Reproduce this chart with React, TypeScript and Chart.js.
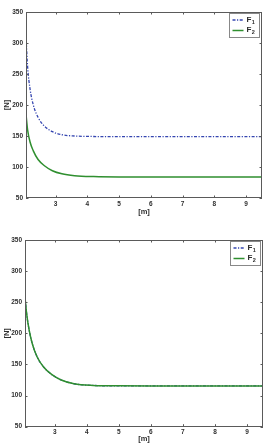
import React, { useEffect, useRef } from 'react';
import { Chart, registerables } from 'chart.js';

Chart.register(...registerables);

const xValues = [2.07, 2.12, 2.2, 2.3, 2.45, 2.65, 2.9, 3.2, 3.6, 4.2, 5, 6, 7, 8, 9, 9.5];
const topF1 = [310, 262, 225, 200, 180, 166, 157, 152, 150, 149.2, 149, 149, 149, 149, 149, 149];
const topF2 = [185, 160, 140, 126, 112, 102, 94, 89, 86, 84.5, 84, 84, 84, 84, 84, 84];
const bottomF1 = [258, 232, 205, 183, 162, 146, 134, 125, 119, 116.3, 115.6, 115.5, 115.5, 115.5, 115.5, 115.5];
const bottomF2 = [258, 232, 205, 183, 162, 146, 134, 125, 119, 116.3, 115.6, 115.5, 115.5, 115.5, 115.5, 115.5];
const seriesNames = ['F₁', 'F₂'];
const xTicks = [3, 4, 5, 6, 7, 8, 9];
const yTicks = [50, 100, 150, 200, 250, 300, 350];
const xRange = [2.07, 9.5];
const yRange = [50, 350];
const xTitle = '[m]';
const yTitle = '[N]';

const AXIS = '#5a5a5a';
const TEXT = '#2e2e2e';
const BLUE = '#3445b0';
const GREEN = '#2f8f2f';
const FONT = "'Liberation Sans', 'DejaVu Sans', Arial, sans-serif";

const boxPlugin = {
  id: 'matlabBox',
  afterDatasetsDraw(chart: any) {
    const { ctx, chartArea } = chart;
    const { left, top, right, bottom } = chartArea;
    const xs = chart.scales.x;
    const ys = chart.scales.y;
    ctx.save();
    ctx.strokeStyle = AXIS;
    ctx.lineWidth = 1;
    ctx.strokeRect(Math.round(left) + 0.5, Math.round(top) + 0.5, Math.round(right - left) - 1, Math.round(bottom - top) - 1);
    ctx.beginPath();
    const tl = 2.5;
    for (const v of xTicks) {
      const px = Math.round(xs.getPixelForValue(v)) + 0.5;
      ctx.moveTo(px, bottom);
      ctx.lineTo(px, bottom - tl);
      ctx.moveTo(px, top);
      ctx.lineTo(px, top + tl);
    }
    for (const v of yTicks) {
      const py = Math.round(ys.getPixelForValue(v)) + 0.5;
      ctx.moveTo(left, py);
      ctx.lineTo(left + tl, py);
      ctx.moveTo(right, py);
      ctx.lineTo(right - tl, py);
    }
    ctx.stroke();

    // legend
    const bx = Math.round(right) - 32.5;
    const by = Math.round(top) + 1.5;
    const bw = 30;
    const bh = 24;
    ctx.fillStyle = '#ffffff';
    ctx.fillRect(bx, by, bw, bh);
    ctx.strokeStyle = '#888888';
    ctx.strokeRect(bx, by, bw, bh);
    const dsets = chart.data.datasets;
    const rows = [by + 6.5, by + 17];
    dsets.forEach((ds: any, i: number) => {
      const ry = rows[i];
      ctx.beginPath();
      ctx.strokeStyle = ds.borderColor;
      ctx.lineWidth = ds.borderWidth;
      ctx.setLineDash(ds.borderDash || []);
      ctx.moveTo(bx + 3, ry);
      ctx.lineTo(bx + 14, ry);
      ctx.stroke();
      ctx.setLineDash([]);
      const label: string = ds.label;
      const base = label.slice(0, 1);
      const subChar = label.slice(1);
      const code = subChar.charCodeAt(0);
      const sub = code >= 0x2080 && code <= 0x2089 ? String(code - 0x2080) : subChar;
      ctx.fillStyle = TEXT;
      ctx.textBaseline = 'middle';
      ctx.textAlign = 'left';
      ctx.font = `bold 8px ${FONT}`;
      ctx.fillText(base, bx + 17, ry - 0.5);
      const w = ctx.measureText(base).width;
      ctx.font = `bold 5.5px ${FONT}`;
      ctx.fillText(sub, bx + 17 + w + 0.3, ry + 2);
    });
    ctx.restore();
  },
};

type Props = {
  f1: number[];
  f2: number[];
  height: number;
  padTop: number;
  padRight: number;
  yWidth: number;
  xHeight: number;
  xTitlePad: number;
  xLabelPad: number;
};

function ForceChart(p: Props) {
  const ref = useRef<HTMLCanvasElement | null>(null);
  useEffect(() => {
    if (!ref.current) return;
    const toPts = (arr: number[]) => xValues.map((x, i) => ({ x, y: arr[i] }));
    const chart = new Chart(ref.current, {
      type: 'line',
      data: {
        datasets: [
          {
            label: seriesNames[0],
            data: toPts(p.f1),
            borderColor: BLUE,
            borderWidth: 1.3,
            borderDash: [3, 1.5, 1.2, 1.5],
            pointRadius: 0,
            cubicInterpolationMode: 'monotone',
            fill: false,
            order: 1,
          },
          {
            label: seriesNames[1],
            data: toPts(p.f2),
            borderColor: GREEN,
            borderWidth: 1.5,
            pointRadius: 0,
            cubicInterpolationMode: 'monotone',
            fill: false,
            order: 0,
          },
        ],
      },
      options: {
        responsive: false,
        animation: false,
        devicePixelRatio: 1,
        layout: { padding: { top: p.padTop, right: p.padRight, left: 0, bottom: 0 } },
        plugins: { legend: { display: false }, tooltip: { enabled: false } },
        scales: {
          x: {
            type: 'linear',
            min: xRange[0],
            max: xRange[1],
            afterBuildTicks: (s: any) => {
              s.ticks = xTicks.map((v) => ({ value: v }));
            },
            afterFit: (s: any) => {
              s.height = p.xHeight;
            },
            grid: { display: false, drawTicks: false },
            border: { display: false },
            ticks: {
              color: TEXT,
              font: { family: FONT, size: 6.5, weight: 'bold' },
              padding: p.xLabelPad,
              maxRotation: 0,
              autoSkip: false,
            },
            title: {
              display: true,
              text: xTitle,
              color: TEXT,
              font: { family: FONT, size: 7.5, weight: 'bold' },
              padding: { top: 0, bottom: p.xTitlePad },
            },
          },
          y: {
            min: yRange[0],
            max: yRange[1],
            afterBuildTicks: (s: any) => {
              s.ticks = yTicks.map((v) => ({ value: v }));
            },
            afterFit: (s: any) => {
              s.width = p.yWidth;
            },
            grid: { display: false, drawTicks: false },
            border: { display: false },
            ticks: {
              color: TEXT,
              font: { family: FONT, size: 6.5, weight: 'bold' },
              padding: 3,
              autoSkip: false,
            },
            title: {
              display: true,
              text: yTitle,
              color: TEXT,
              font: { family: FONT, size: 7.5, weight: 'bold' },
              padding: { top: 2.2, bottom: 0 },
            },
          },
        },
      },
      plugins: [boxPlugin],
    } as any);
    return () => chart.destroy();
  }, []);
  return <canvas ref={ref} width={270} height={p.height} style={{ display: 'block', width: 270, height: p.height }} />;
}

export default function App() {
  return (
    <div style={{ position: 'absolute', left: 0, top: 0, width: 270, height: 443, background: '#fff' }}>
      <ForceChart f1={topF1} f2={topF2} height={220} padTop={12} padRight={8} yWidth={26} xHeight={22} xTitlePad={3.5} xLabelPad={2} />
      <ForceChart f1={bottomF1} f2={bottomF2} height={223} padTop={20} padRight={7} yWidth={25} xHeight={16.3} xTitlePad={0} xLabelPad={1.5} />
    </div>
  );
}
